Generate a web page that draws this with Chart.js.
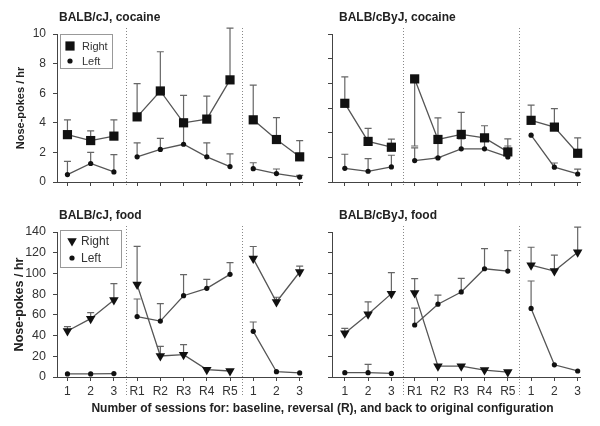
<!DOCTYPE html>
<html>
<head>
<meta charset="utf-8">
<script src="https://cdn.jsdelivr.net/npm/chart.js@4/dist/chart.umd.min.js"></script>
<style>
  body { margin: 0; background: #fff; }
  #wrap { position: relative; width: 600px; height: 426px; font-family: "Liberation Sans", Arial, sans-serif; }
  canvas { position: absolute; }
  .ttl { position: absolute; font-weight: bold; font-size: 12px; line-height: 12px; color: #222; white-space: nowrap; }
  .xt { position: absolute; left: 0; width: 645px; text-align: center; font-weight: bold; font-size: 12px; color: #222; white-space: nowrap; }
</style>
</head>
<body>
<div id="wrap">
  <canvas id="c1" width="310" height="200" style="left:0;top:0"></canvas>
  <canvas id="c2" width="290" height="200" style="left:310px;top:0"></canvas>
  <canvas id="c3" width="310" height="226" style="left:0;top:200px"></canvas>
  <canvas id="c4" width="290" height="226" style="left:310px;top:200px"></canvas>
  <div class="ttl" style="left:59px;top:11px">BALB/cJ, cocaine</div>
  <div class="ttl" style="left:339px;top:11px">BALB/cByJ, cocaine</div>
  <div class="ttl" style="left:59px;top:209px">BALB/cJ, food</div>
  <div class="ttl" style="left:339px;top:209px">BALB/cByJ, food</div>
  <div class="xt" style="top:401px">Number of sessions for: baseline, reversal (R), and back to original configuration</div>
</div>
<script>
const sessions = ['1', '2', '3', 'R1', 'R2', 'R3', 'R4', 'R5', '1', '2', '3'];

// BALB/cJ, cocaine
const cjCocRight    = [3.2, 2.8, 3.1, 4.4, 6.15, 4.0, 4.25, 6.9, 4.2, 2.87, 1.7];
const cjCocRightErr = [4.2, 3.45, 4.2, 6.65, 8.8, 5.85, 5.8, 10.4, 6.55, 4.35, 2.8];
const cjCocLeft     = [0.5, 1.25, 0.68, 1.7, 2.2, 2.55, 1.7, 1.04, 0.9, 0.57, 0.33];
const cjCocLeftErr  = [1.4, 2.0, 1.85, 2.65, 2.95, 3.9, 2.65, 1.9, 1.3, 0.88, 0.45];

// BALB/cByJ, cocaine (own unlabelled axis)
const byCocRight       = [6.38, 3.29, 2.82, 8.36, 3.45, 3.86, 3.58, 2.44, 5.0, 4.45, 2.33];
const byCocRightErr    = [8.53, 4.34, 3.48, null, 5.2, 5.65, 4.56, 3.49, 6.24, 5.95, 3.57];
const byCocRightErrLow = [null, null, null, 2.92, 2.0, null, null, null, null, null, null];
const byCocLeft        = [1.11, 0.87, 1.22, 1.74, 1.95, 2.69, 2.69, 2.03, 3.8, 1.2, 0.65];
const byCocLeftErr     = [2.25, 1.9, 2.17, 2.76, null, 3.5, 3.3, 2.92, null, 1.54, 1.05];

// BALB/cJ, food
const cjFoodRight    = [44.4, 56.3, 74.3, 89.2, 20.3, 21.6, 7.1, 5.8, 114.3, 72.4, 101.4];
const cjFoodRightErr = [48.6, 62.1, 90.1, 126.2, 29.6, 31.2, null, null, 126, 77, 107];
const cjFoodLeft     = [3, 3, 3.3, 58.3, 54, 78.5, 85.6, 99.1, 44.1, 5.1, 3.9];
const cjFoodLeftErr  = [null, null, null, 75.3, 70.8, 98.8, 94.3, 110.4, 53.1, null, null];

// BALB/cByJ, food
const byFoodRight    = [42.2, 60.7, 80.5, 81.2, 10.5, 10.5, 6.7, 4.8, 108, 102.3, 120.5];
const byFoodRightErr = [47, 72.5, 100.7, 95, null, null, null, null, 125.3, 117.6, 144.8];
const byFoodLeft     = [4.2, 4.2, 3.5, 50.2, 70.3, 82.1, 104.5, 102.3, 66.2, 11.8, 5.8];
const byFoodLeftErr  = [null, 12.1, null, 66.5, 79, 95.2, 124, 122, 92.7, null, null];

Chart.defaults.font.family = '"Liberation Sans", Arial, sans-serif';

const errorBars = {
  id: 'errorBars',
  beforeDatasetsDraw(chart) {
    const { ctx, scales: { x, y } } = chart;
    ctx.save();
    ctx.strokeStyle = '#666';
    ctx.lineWidth = 1.2;
    chart.data.datasets.forEach(ds => {
      ['errUp', 'errDown'].forEach(k => {
        (ds[k] || []).forEach((v, i) => {
          if (v == null) return;
          const px = x.getPixelForValue(i);
          const p0 = y.getPixelForValue(ds.data[i].y);
          const p1 = y.getPixelForValue(v);
          ctx.beginPath();
          ctx.moveTo(px, p0); ctx.lineTo(px, p1);
          ctx.moveTo(px - 3.5, p1); ctx.lineTo(px + 3.5, p1);
          ctx.stroke();
        });
      });
    });
    ctx.restore();
  }
};

// dotted lines between baseline / reversal / back
const separators = {
  id: 'separators',
  beforeDatasetsDraw(chart, args, opts) {
    const { ctx, chartArea, scales: { x } } = chart;
    ctx.save();
    ctx.strokeStyle = '#888';
    ctx.lineWidth = 1;
    ctx.setLineDash([1, 2]);
    [2.5, 7.5].forEach(v => {
      const px = Math.round(x.getPixelForValue(v)) + 0.5;
      ctx.beginPath();
      ctx.moveTo(px, chartArea.top - 6);
      ctx.lineTo(px, chartArea.bottom + opts.below);
      ctx.stroke();
    });
    ctx.restore();
  }
};

// boxed legend inside the plot
const boxLegend = {
  id: 'boxLegend',
  afterDraw(chart, args, opts) {
    if (!opts.show) return;
    const { ctx, chartArea } = chart;
    const bx = chartArea.left + opts.dx, by = chartArea.top + opts.dy;
    ctx.save();
    ctx.strokeStyle = '#999';
    ctx.lineWidth = 1;
    ctx.strokeRect(bx + 0.5, by + 0.5, opts.w, opts.h);
    chart.data.datasets.forEach((ds, i) => {
      const cy = by + opts.y0 + i * opts.gap;
      ctx.fillStyle = '#111';
      ctx.strokeStyle = '#111';
      Chart.helpers.drawPoint(ctx, {
        pointStyle: ds.pointStyle, rotation: ds.pointRotation || 0,
        radius: ds.pointRadius, borderWidth: 0
      }, bx + opts.mx, cy);
      ctx.fillStyle = '#333';
      ctx.font = opts.font + 'px "Liberation Sans", Arial, sans-serif';
      ctx.textBaseline = 'middle';
      ctx.fillText(ds.label, bx + opts.tx, cy + 0.5);
    });
    ctx.restore();
  }
};

function series(label, vals, up, down, style, rot, r) {
  return {
    label: label,
    data: vals.map((v, i) => ({ x: i, y: v })),
    errUp: up, errDown: down,
    borderColor: '#555', borderWidth: 1.3,
    pointStyle: style, pointRotation: rot, pointRadius: r, pointHoverRadius: r,
    pointBackgroundColor: '#111', pointBorderColor: '#111', pointBorderWidth: 0,
    tension: 0, clip: false,
    segment: { borderColor: c => (c.p0DataIndex === 2 || c.p0DataIndex === 7) ? 'rgba(0,0,0,0)' : '#555' }
  };
}

function panel(id, p) {
  new Chart(document.getElementById(id), {
    type: 'line',
    data: {
      datasets: [
        series('Right', p.right, p.rightErr, p.rightErrLow, p.style, p.rot, p.r),
        series('Left', p.left, p.leftErr, null, 'circle', 0, 2.6)
      ]
    },
    plugins: [errorBars, separators, boxLegend],
    options: {
      responsive: false,
      animation: false,
      devicePixelRatio: 1,
      layout: { padding: p.pad },
      plugins: {
        legend: { display: false },
        tooltip: { enabled: false },
        separators: { below: p.below },
        boxLegend: p.legend
      },
      scales: {
        x: {
          type: 'linear', min: p.xmin, max: 10.1,
          afterBuildTicks: s => { s.ticks = sessions.map((_, i) => ({ value: i })); },
          afterFit: s => { s.height = p.xh; s.paddingLeft = 0; s.paddingRight = 0; },
          ticks: { display: p.xLabels, callback: v => sessions[v], color: '#333', font: { size: 12 }, padding: 3, autoSkip: false, maxRotation: 0 },
          grid: { drawOnChartArea: false, tickLength: 4, color: '#444' },
          border: { color: '#444' }
        },
        y: {
          min: 0, max: p.ymax,
          afterFit: s => { s.width = p.yw; s.paddingTop = 0; s.paddingBottom = 0; },
          ticks: { display: p.yLabels, stepSize: p.step, color: '#333', font: { size: p.tickSize }, padding: 7 },
          grid: { drawOnChartArea: false, tickLength: 4, color: '#444' },
          border: { color: '#444' },
          title: {
            display: !!p.yTitle, text: p.yTitle, color: '#222',
            font: { size: p.yTitleSize, weight: 'bold' }, padding: { top: p.yTitlePad, bottom: 0 }
          }
        }
      }
    }
  });
}

panel('c1', {
  right: cjCocRight, rightErr: cjCocRightErr, rightErrLow: null,
  left: cjCocLeft, leftErr: cjCocLeftErr,
  style: 'rect', rot: 0, r: 6.5,
  pad: { left: 10, top: 34, right: 8, bottom: 0 }, yw: 47, xh: 18, xmin: -0.45,
  ymax: 10, step: 2, yLabels: true, tickSize: 12, xLabels: false, below: 5,
  yTitle: 'Nose-pokes / hr', yTitleSize: 11, yTitlePad: 4,
  legend: { show: true, dx: 3, dy: 0, w: 52, h: 34, y0: 12, gap: 15, mx: 10, tx: 22, font: 11 }
});

panel('c2', {
  right: byCocRight, rightErr: byCocRightErr, rightErrLow: byCocRightErrLow,
  left: byCocLeft, leftErr: byCocLeftErr,
  style: 'rect', rot: 0, r: 6.5,
  pad: { left: 0, top: 34, right: 20, bottom: 0 }, yw: 22, xh: 18, xmin: -0.55,
  ymax: 12, step: 2, yLabels: false, tickSize: 11, xLabels: false, below: 5,
  yTitle: '', yTitleSize: 10, yTitlePad: 4,
  legend: { show: false }
});

panel('c3', {
  right: cjFoodRight, rightErr: cjFoodRightErr, rightErrLow: null,
  left: cjFoodLeft, leftErr: cjFoodLeftErr,
  style: 'triangle', rot: 180, r: 5.5,
  pad: { left: 10, top: 32, right: 8, bottom: 29 }, yw: 47, xh: 20, xmin: -0.45,
  ymax: 140, step: 20, yLabels: true, tickSize: 12.5, xLabels: true, below: 20,
  yTitle: 'Nose-pokes / hr', yTitleSize: 12.5, yTitlePad: 2,
  legend: { show: true, dx: 3, dy: -2, w: 61, h: 37, y0: 11, gap: 17, mx: 12, tx: 21, font: 12 }
});

panel('c4', {
  right: byFoodRight, rightErr: byFoodRightErr, rightErrLow: null,
  left: byFoodLeft, leftErr: byFoodLeftErr,
  style: 'triangle', rot: 180, r: 5.5,
  pad: { left: 0, top: 32, right: 20, bottom: 29 }, yw: 22, xh: 20, xmin: -0.55,
  ymax: 140, step: 20, yLabels: false, tickSize: 12, xLabels: true, below: 20,
  yTitle: '', yTitleSize: 10, yTitlePad: 4,
  legend: { show: false }
});
</script>
</body>
</html>
